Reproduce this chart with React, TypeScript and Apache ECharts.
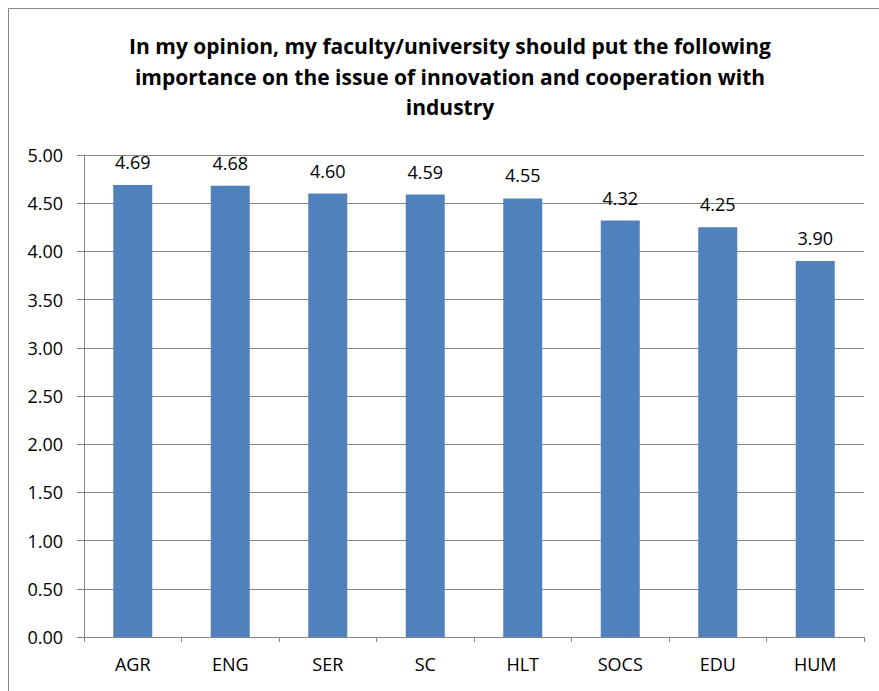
import React, { useEffect, useRef } from "react";
import * as echarts from "echarts";

const categories = ["AGR", "ENG", "SER", "SC", "HLT", "SOCS", "EDU", "HUM"];
const values = [4.69, 4.68, 4.6, 4.59, 4.55, 4.32, 4.25, 3.9];
const titleLines = [
  "In my opinion, my faculty/university should put the following",
  "importance on the issue of innovation and cooperation with",
  "industry",
];

const FONT = "'Open Sans', 'Liberation Sans', sans-serif";

export default function App() {
  const ref = useRef<HTMLDivElement>(null);
  useEffect(() => {
    if (!ref.current) return;
    const chart = echarts.init(ref.current, null, { renderer: "svg" });
    chart.setOption({
      animation: false,
      backgroundColor: "#ffffff",
      title: {
        text: titleLines.join("\n"),
        left: 450,
        textAlign: "center",
        top: 31,
        padding: 0,
        textStyle: {
          fontFamily: FONT,
          fontWeight: "bold",
          fontSize: 21,
          lineHeight: 30.5,
          color: "#000000",
        },
      },
      graphic: [
        {
          type: "rect",
          shape: { x: 8.5, y: 8.5, width: 900, height: 700 },
          style: { fill: "none", stroke: "#868686", lineWidth: 1 },
          silent: true,
        },
      ],
      grid: { left: 84, top: 155, right: 15, bottom: 54, containLabel: false },
      xAxis: {
        type: "category",
        data: categories,
        axisLine: { lineStyle: { color: "#868686", width: 1 } },
        axisTick: { show: true, length: 5, lineStyle: { color: "#868686" } },
        axisLabel: { color: "#000", fontFamily: FONT, fontSize: 18, margin: 18 },
      },
      yAxis: {
        type: "value",
        min: 0,
        max: 5,
        interval: 0.5,
        axisLine: { show: true, lineStyle: { color: "#868686", width: 1 } },
        axisTick: { show: true, length: 7, lineStyle: { color: "#868686" } },
        splitLine: { show: true, lineStyle: { color: "#868686", width: 1 } },
        axisLabel: {
          color: "#000",
          fontFamily: FONT,
          fontSize: 18,
          margin: 21,
          formatter: (v: number) => v.toFixed(2),
        },
      },
      series: [
        {
          type: "bar",
          data: values,
          barWidth: 39,
          itemStyle: { color: "#4F81BD" },
          label: {
            show: true,
            position: "top",
            distance: 14,
            color: "#000",
            fontFamily: FONT,
            fontSize: 18,
            formatter: (p: any) => Number(p.value).toFixed(2),
          },
        },
      ],
    });
    return () => chart.dispose();
  }, []);
  return (
    <div
      ref={ref}
      style={{ position: "fixed", left: 0, top: 0, width: 879, height: 691 }}
    />
  );
}
